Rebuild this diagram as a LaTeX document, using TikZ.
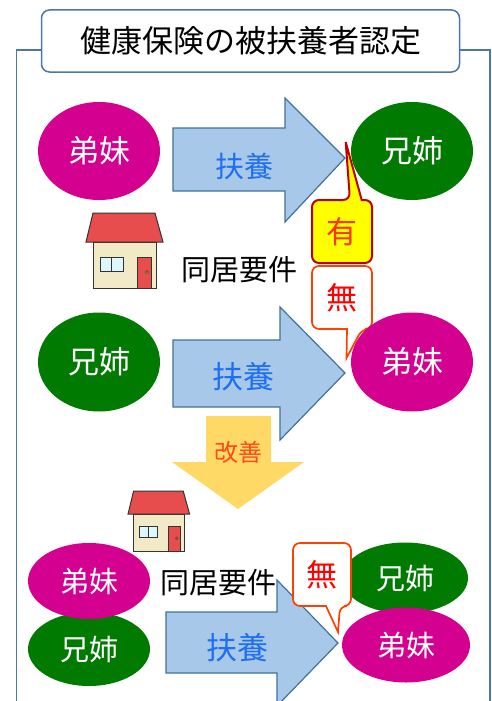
\documentclass[tikz,border=0pt]{standalone}
\usepackage{fontspec}
\newfontfamily\jpfont{Noto Sans CJK JP}
\usetikzlibrary{shapes.geometric}

\definecolor{frameblue}{HTML}{4A77A8}
\definecolor{arrowfill}{HTML}{A7C8E8}
\definecolor{arrowline}{HTML}{41719C}
\definecolor{fuyoblue}{HTML}{1F6FF0}
\definecolor{sismagenta}{HTML}{D4008F}
\definecolor{brogreen}{HTML}{007A00}
\definecolor{kaizenyellow}{HTML}{FFD966}
\definecolor{kaizenred}{HTML}{FF4A1A}
\definecolor{yesfill}{HTML}{FFFF00}
\definecolor{yesline}{HTML}{C00000}
\definecolor{yestext}{HTML}{FF3300}
\definecolor{noline}{HTML}{FF4000}
\definecolor{notext}{HTML}{FF0000}
\definecolor{roofred}{HTML}{E84D4D}
\definecolor{wallcream}{HTML}{F2E9C6}
\definecolor{winblue}{HTML}{DDF7FF}
\definecolor{knobyellow}{HTML}{D9A400}
\definecolor{houseline}{HTML}{333333}

\tikzset{
  jp/.style={font={\jpfont\fontsize{#1}{#1}\selectfont}},
  % a small house, drawn from its top left corner
  house/.pic={
    \draw [houseline, line width=1pt, fill=wallcream] (7,29) rectangle (70,75);
    \draw [houseline, line width=1pt, fill=roofred] (7,0) -- (69,0) -- (77,29) -- (0,29) -- cycle;
    \draw [houseline, line width=1pt, fill=winblue] (14,44) rectangle (37,58);
    \draw [houseline, line width=1pt] (25.5,44) -- (25.5,58);
    \draw [houseline, line width=1pt, fill=roofred] (51,44) rectangle (65,75);
    \draw [houseline, line width=0.5pt, fill=knobyellow] (61,59) circle (1.6);
  }
}

\begin{document}
\begin{tikzpicture}[x=1pt, y=-1pt,
    titlebox/.style={draw=frameblue, line width=1.5pt, rounded corners=8pt, fill=white,
      minimum width=418pt, minimum height=62pt, inner sep=0pt, jp=31},
    frame/.style={draw=frameblue, line width=1.5pt},
    sis/.style={ellipse, fill=sismagenta, text=white, inner sep=0pt, jp=#1},
    sis/.default=31,
    bro/.style={ellipse, fill=brogreen, text=white, inner sep=0pt, jp=#1},
    bro/.default=31,
    fuyo/.style={fill=arrowfill, draw=arrowline, line width=1.2pt, line join=miter},
    fuyotext/.style={text=fuyoblue, inner sep=0pt, jp=29},
    kaizen/.style={fill=kaizenyellow},
    yesbox/.style={fill=yesfill, draw=yesline, line width=2pt},
    nobox/.style={fill=white, draw=noline, line width=1.7pt},
    note/.style={inner sep=0pt, jp=29}]
  \useasboundingbox (0,0) rectangle (491,701);

  % Marking the title and the frame
  \node (title) at (250.5,41) [titlebox] {健康保険の被扶養者認定};
  \draw [frame] ([yshift=-9pt]title.west) -| (16.5,705);
  \draw [frame] ([yshift=-9pt]title.east) -| (490,705);

  % First case
  \node (sis1) at (99,151) [sis, minimum width=122pt, minimum height=98pt] {弟妹};
  \node (bro1) at (412,151) [bro, minimum width=122pt, minimum height=98pt] {兄姉};
  \draw [fuyo] (173,128) -- (285,128) -- (285,98) -- (345,158) -- (285,222) -- (285,191) -- (173,191) -- cycle;
  \node (fuyo1) at (244,166) [fuyotext] {扶養};

  % House and condition
  \pic at (86,213) {house};
  \node (dokyo1) at (239,270) [note] {同居要件};

  % Callouts: with and without
  \draw [yesbox] (345.7,142) -- (361.7,200) [rounded corners=7pt] -- (372,200) -- (372,263)
    -- (312,263) -- (312,200) -- (350,200) [sharp corners] -- cycle;
  \node (yes1) at (342,231.5) [inner sep=0pt, text=yestext, jp=31] {有};
  \draw [nobox] (346.5,358) -- (347,329) [rounded corners=7pt] -- (312,329) -- (312,266)
    -- (372,266) -- (372,329) -- (362,329) [sharp corners] -- cycle;
  \node (no1) at (342,297.5) [inner sep=0pt, text=notext, jp=31] {無};

  % Second case
  \node (bro2) at (99,362) [bro, minimum width=122pt, minimum height=99pt] {兄姉};
  \node (sis2) at (412,362) [sis, minimum width=122pt, minimum height=99pt] {弟妹};
  \draw [fuyo] (173,340) -- (280,340) -- (280,307) -- (345,373) -- (280,440) -- (280,407) -- (173,407) -- cycle;
  \node (fuyo2) at (243,377) [fuyotext, jp=31] {扶養};

  % Improvement
  \fill [kaizen] (206,416) -- (271,416) -- (271,462) -- (304,462) -- (238,509) -- (172,462) -- (206,462) -- cycle;
  \node (kaizen) at (238,452) [inner sep=0pt, text=kaizenred, jp=24] {改善};

  % Third case
  \pic [scale=0.8] at (128,491) {house};
  \node (bro3) at (89,649) [bro=29, minimum width=122pt, minimum height=74pt] {兄姉};
  \node (sis3) at (89,581) [sis=29, minimum width=122pt, minimum height=76pt] {弟妹};
  \node (dokyo2) at (218,583) [note] {同居要件};
  \draw [fuyo] (166,612) -- (277,612) -- (277,580) -- (338,643) -- (277,706) -- (277,673) -- (166,673) -- cycle;
  \node (fuyo3) at (237,648) [fuyotext, jp=31] {扶養};
  \node (bro4) at (405,578) [bro=29, minimum width=126pt, minimum height=71pt] {兄姉};
  \node (sis4) at (406,645) [sis=29, minimum width=128pt, minimum height=75pt] {弟妹};
  \draw [nobox] (338,632) -- (326,606) [rounded corners=7pt] -- (293,606) -- (293,543)
    -- (351,543) -- (351,606) -- (340,606) [sharp corners] -- cycle;
  \node (no2) at (322,575) [inner sep=0pt, text=notext, jp=31] {無};
\end{tikzpicture}
\end{document}
